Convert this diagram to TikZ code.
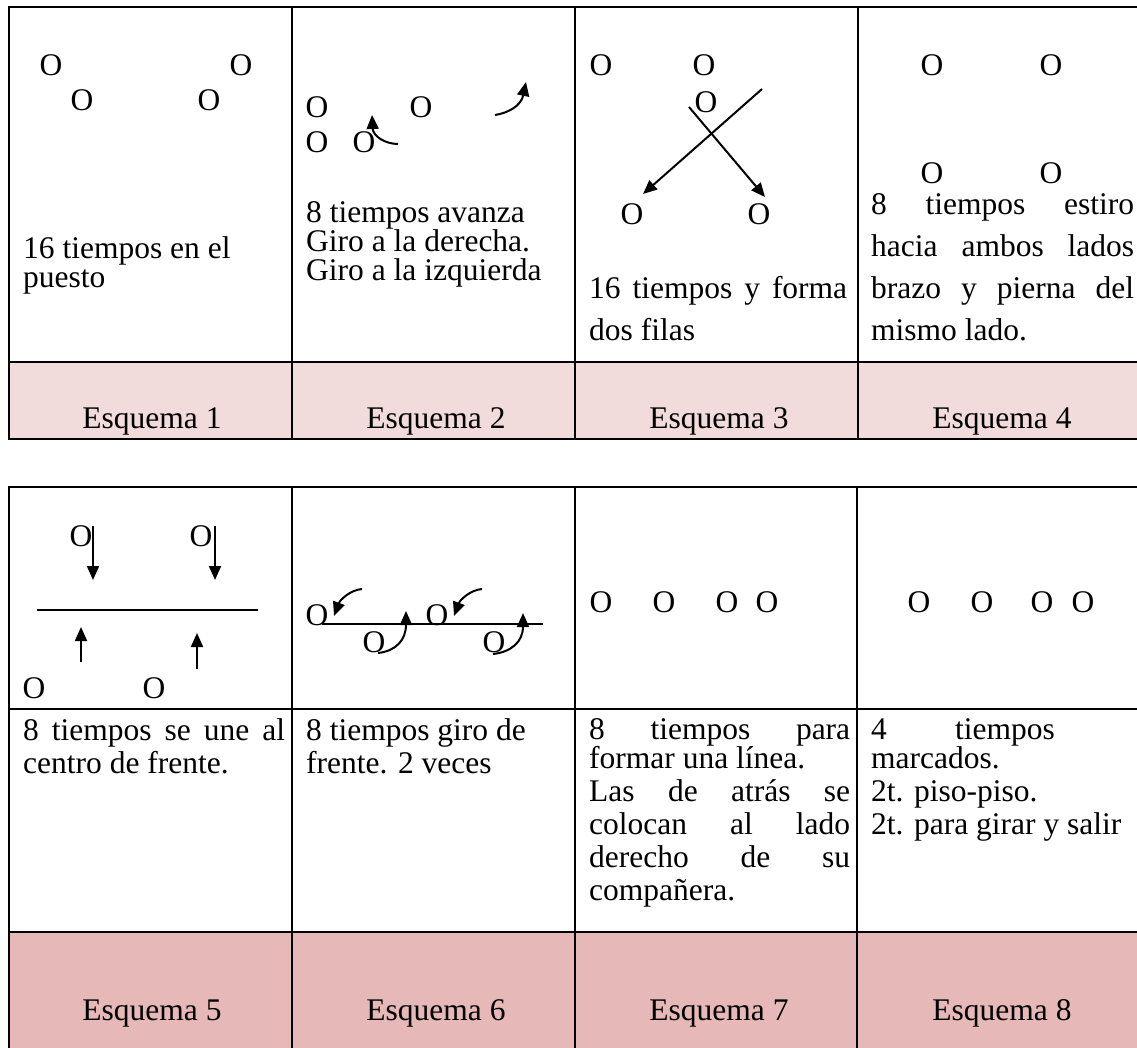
\documentclass[tikz,border=0pt]{standalone}
\usepackage{fontspec}
\setmainfont{Liberation Serif}
\usetikzlibrary{arrows.meta}
\definecolor{pinkA}{HTML}{F2DCDB}
\definecolor{pinkB}{HTML}{E6B8B7}
\newcommand{\tnrsize}{\fontsize{31.5}{36}\selectfont}
\begin{document}
\begin{tikzpicture}[x=1pt,y=-1pt,
  rule/.style={line width=2.5pt},
  fig/.style={line width=2pt},
  arr/.style={fig,-{Triangle[length=14pt,width=12pt]}},
  person/.style={inner sep=0pt,font=\tnrsize},
  txt/.style={anchor=base west,inner sep=0pt,font=\tnrsize},
  lab/.style={anchor=base,inner sep=0pt,font=\tnrsize}]
\useasboundingbox (0,0) rectangle (1137,1047);
% ---------- table 1 ----------
\fill[pinkA] (9,362) rectangle (1150,439);
\draw[rule] (1150,7) -- (9,7) -- (9,439) -- (1150,439);
\draw[rule] (9,362) -- (1150,362);
\foreach \x in {292,575,858} \draw[rule] (\x,7) -- (\x,439);
% ---------- table 2 ----------
\fill[pinkB] (9,932) rectangle (1150,1060);
\draw[rule] (1150,487) -- (9,487) -- (9,1060);
\draw[rule] (9,709) -- (1150,709);
\draw[rule] (9,932) -- (1150,932);
\foreach \x in {292,575,857} \draw[rule] (\x,487) -- (\x,1060);

% ===== Esquema 1 =====
\node[person] (e1a) at (51,65) {O};
\node[person] (e1b) at (241,65) {O};
\node[person] (e1c) at (82,100) {O};
\node[person] (e1d) at (209,100) {O};
\node[txt] (t1a) at (23,258) {16 tiempos en el};
\node[txt] (t1b) at (23,287) {puesto};
\node[lab] (l1) at (152,428) {Esquema 1};

% ===== Esquema 2 =====
\node[person] (e2a) at (317,107) {O};
\node[person] (e2b) at (421,107) {O};
\node[person] (e2c) at (317,142) {O};
\node[person] (e2d) at (364,142) {O};
\coordinate (c2s1) at (398,144);
\coordinate (c2e1) at (372,115);
\coordinate (c2s2) at (495,115);
\coordinate (c2e2) at (526,82);
\draw[arr] (c2s1) .. controls (385,144) and (373,136) .. (c2e1);
\draw[arr] (c2s2) .. controls (508,113) and (521,106) .. (c2e2);
\node[txt] (t2a) at (306,222) {8 tiempos avanza};
\node[txt] (t2b) at (306,251) {Giro a la derecha.};
\node[txt] (t2c) at (306,280) {Giro a la izquierda};
\node[lab] (l2) at (436,428) {Esquema 2};

% ===== Esquema 3 =====
\node[person] (e3a) at (601,65) {O};
\node[person] (e3b) at (704,65) {O};
\node[person] (e3c) at (706,102) {O};
\node[person] (e3d) at (632,214) {O};
\node[person] (e3e) at (759,214) {O};
\coordinate (c3s1) at (762,89);
\coordinate (c3e1) at (643,194);
\coordinate (c3s2) at (689,107);
\coordinate (c3e2) at (765,197);
\draw[arr] (c3s1) -- (c3e1);
\draw[arr] (c3s2) -- (c3e2);
\node[txt] (t3a) at (589,298) {\makebox[258pt][s]{16 tiempos y forma}};
\node[txt] (t3b) at (589,340) {dos filas};
\node[lab] (l3) at (719,428) {Esquema 3};

% ===== Esquema 4 =====
\node[person] (e4a) at (932,65) {O};
\node[person] (e4b) at (1051,65) {O};
\node[person] (e4c) at (932,173) {O};
\node[person] (e4d) at (1051,173) {O};
\node[txt] (t4a) at (871,214) {\makebox[263pt][s]{8 tiempos estiro}};
\node[txt] (t4b) at (871,256) {\makebox[263pt][s]{hacia ambos lados}};
\node[txt] (t4c) at (871,298) {\makebox[263pt][s]{brazo y pierna del}};
\node[txt] (t4d) at (871,340) {mismo lado.};
\node[lab] (l4) at (1002,428) {Esquema 4};

% ===== Esquema 5 =====
\node[person] (e5a) at (81,536) {O};
\node[person] (e5b) at (201,536) {O};
\node[person] (e5c) at (34,688) {O};
\node[person] (e5d) at (154,688) {O};
\coordinate (c5a1) at (93,526);
\coordinate (c5a2) at (93,580);
\coordinate (c5b1) at (215,526);
\coordinate (c5b2) at (215,580);
\coordinate (c5l1) at (37,610);
\coordinate (c5l2) at (258,610);
\coordinate (c5c1) at (81,662);
\coordinate (c5c2) at (81,627);
\coordinate (c5d1) at (197,669);
\coordinate (c5d2) at (197,633);
\draw[arr] (c5a1) -- (c5a2);
\draw[arr] (c5b1) -- (c5b2);
\draw[fig] (c5l1) -- (c5l2);
\draw[arr] (c5c1) -- (c5c2);
\draw[arr] (c5d1) -- (c5d2);
\node[txt] (t5a) at (23,740) {\makebox[262pt][s]{8 tiempos se une al}};
\node[txt] (t5b) at (23,773) {centro de frente.};
\node[lab] (l5) at (152,1020) {Esquema 5};

% ===== Esquema 6 =====
\node[person] (e6a) at (317,615) {O};
\node[person] (e6b) at (437,615) {O};
\node[person] (e6c) at (374,642) {O};
\node[person] (e6d) at (494,642) {O};
\coordinate (c6l1) at (322,624);
\coordinate (c6l2) at (543,624);
\draw[fig] (c6l1) -- (c6l2);
\coordinate (c6a1) at (362,589);
\coordinate (c6a2) at (334,616);
\coordinate (c6b1) at (482,589);
\coordinate (c6b2) at (454,616);
\coordinate (c6c1) at (378,653);
\coordinate (c6c2) at (406,611);
\coordinate (c6d1) at (493,654);
\coordinate (c6d2) at (523,613);
\draw[arr] (c6a1) .. controls (350,590) and (340,600) .. (c6a2);
\draw[arr] (c6b1) .. controls (470,590) and (460,600) .. (c6b2);
\draw[arr] (c6c1) .. controls (396,651) and (406,640) .. (c6c2);
\draw[arr] (c6d1) .. controls (511,652) and (523,642) .. (c6d2);
\node[txt] (t6a) at (306,740) {8 tiempos giro de};
\node[txt] (t6b) at (306,773) {frente. 2 veces};
\node[lab] (l6) at (436,1020) {Esquema 6};

% ===== Esquema 7 =====
\node[person] (e7a) at (601,602) {O};
\node[person] (e7b) at (664,602) {O};
\node[person] (e7c) at (727,602) {O};
\node[person] (e7d) at (767,602) {O};
\node[txt] (t7a) at (589,739) {\makebox[261pt][s]{8 tiempos para}};
\node[txt] (t7b) at (589,768) {formar una línea.};
\node[txt] (t7c) at (589,801) {\makebox[261pt][s]{Las de atrás se}};
\node[txt] (t7d) at (589,834) {\makebox[261pt][s]{colocan al lado}};
\node[txt] (t7e) at (589,867) {\makebox[261pt][s]{derecho de su}};
\node[txt] (t7f) at (589,900) {compañera.};
\node[lab] (l7) at (719,1020) {Esquema 7};

% ===== Esquema 8 =====
\node[person] (e8a) at (919,602) {O};
\node[person] (e8b) at (982,602) {O};
\node[person] (e8c) at (1042,602) {O};
\node[person] (e8d) at (1083,602) {O};
\node[txt] (t8a) at (871,739) {4};
\node[txt] (t8b) at (955,739) {tiempos};
\node[txt] (t8c) at (871,768) {marcados.};
\node[txt] (t8d) at (871,801) {2t. piso-piso.};
\node[txt] (t8e) at (871,834) {2t. para girar y salir};
\node[lab] (l8) at (1002,1020) {Esquema 8};
\end{tikzpicture}
\end{document}
